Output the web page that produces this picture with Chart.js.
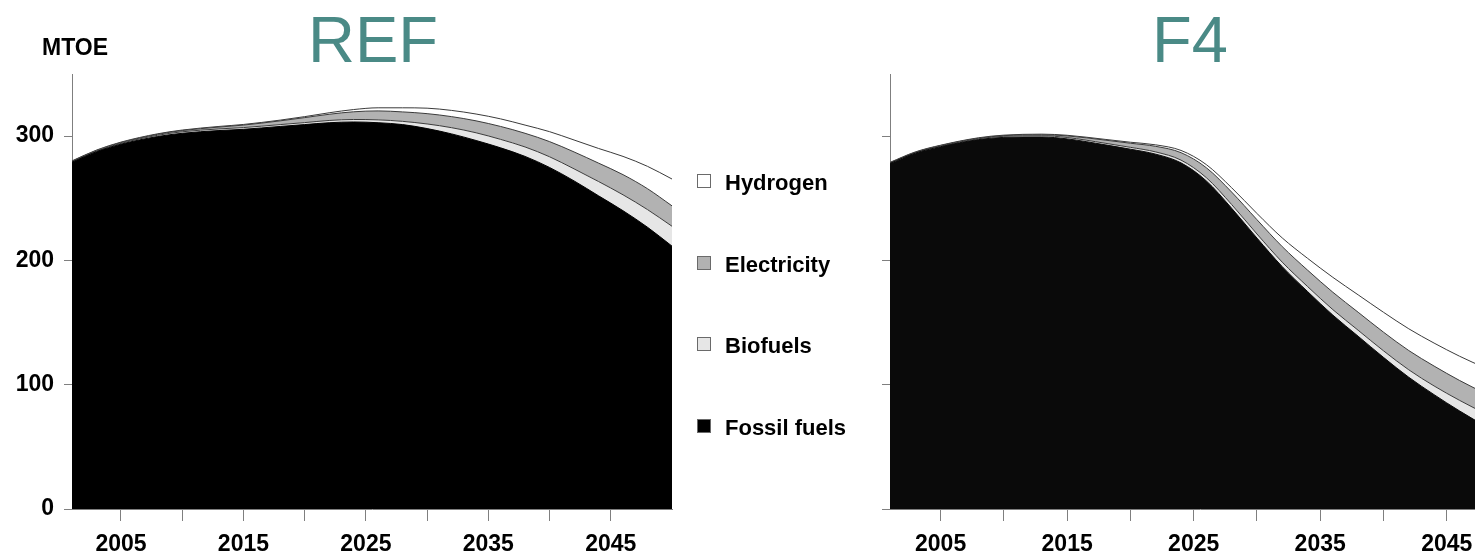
<!DOCTYPE html>
<html><head><meta charset="utf-8">
<script src="https://cdn.jsdelivr.net/npm/chart.js@4/dist/chart.umd.min.js"></script>
<style>
html,body{margin:0;padding:0;width:1475px;height:555px;overflow:hidden;background:#fff;font-family:"Liberation Sans",Arial,sans-serif;}
.box{position:absolute;top:0;height:555px;}
.title{position:absolute;top:7px;font-size:65px;line-height:65px;color:#4a8a86;transform:translateX(-50%);white-space:nowrap;}
#unit{position:absolute;left:42px;top:36px;font-size:23px;line-height:23px;font-weight:bold;color:#000;}
.lg-box{position:absolute;left:697px;width:12px;height:12px;border:1px solid #6a6a6a;}
.lg-txt{position:absolute;left:725px;font-size:22px;line-height:22px;font-weight:bold;color:#000;white-space:nowrap;}
</style></head><body>
<div class="box" style="left:0;width:690px"><canvas id="refChart"></canvas></div>
<div class="box" style="left:800px;width:730px"><canvas id="f4Chart"></canvas></div>
<div class="title" style="left:373px">REF</div>
<div class="title" style="left:1190px">F4</div>
<div id="unit">MTOE</div>
<div id="legend"></div>
<script>
const years = [2001,2003,2005,2008,2010,2013,2015,2018,2020,2022,2024,2026,2028,2030,2032,2034,2036,2038,2040,2042,2044,2046,2048,2050];

const refFossil      = [279,287.5,293.5,299.7,302.3,304.5,305.5,307.8,309.3,310.8,311.4,310.8,309.3,306.1,301.8,296.5,290.6,283.7,274.8,264,252,240,226.7,211.5];
const refBiofuels    = [0.4,0.5,0.7,1.0,1.2,1.3,1.4,1.5,1.6,1.8,2.0,2.3,2.6,3.7,5.0,6.2,6.8,7.6,8.6,9.7,11.5,12.8,14.2,16];
const refElectricity = [0.4,0.5,0.6,0.8,1.0,1.5,2.0,3.0,4.0,5.0,6.2,7.2,7.6,8.3,8.9,9.6,10.4,11.0,12.2,13.6,14.8,16.2,16.8,16.4];
const refHydrogen    = [0.3,0.3,0.4,0.4,0.4,0.5,0.5,0.6,0.8,1.2,1.8,2.5,3.3,4.4,5.0,5.5,6.1,6.6,8.0,9.6,11.8,14.7,18,21.6];

const f4Fossil      = [278,286.3,291.5,297.2,299,299.3,297.8,293,289.5,285.5,278.5,264,242,218,195,175,156,139,122,106,92,79,67,56];
const f4Biofuels    = [0.3,0.4,0.5,0.7,0.9,1.0,1.1,1.3,1.5,1.8,2.2,2.6,3.0,3.3,3.6,4.0,4.4,4.8,5.3,6.0,7.0,8.5,10,11];
const f4Electricity = [0.3,0.3,0.4,0.4,0.5,0.8,1.3,2.5,3.3,4.5,6.0,8.0,10,11.5,12.5,13.2,14,14.5,15,15.5,16,16,16.2,16.4];
const f4Hydrogen    = [0.3,0.3,0.3,0.4,0.4,0.5,0.5,0.6,0.8,1.2,1.8,2.5,3.5,5,7,9.5,12,14,16,17.5,18.5,19.5,20.5,21.5];

const seriesNames = ['Fossil fuels','Biofuels','Electricity','Hydrogen'];
const seriesColors = ['#000000','#e6e6e6','#b2b2b2','#ffffff'];
const xTicks = [2005,2010,2015,2020,2025,2030,2035,2040,2045];
const yTicks = [0,100,200,300];

function pts(arr){ return years.map((y,i)=>({x:y,y:arr[i]})); }

function makeChart(id, series, opt){
  const datasets = series.map((arr,i)=>({
    label: seriesNames[i],
    data: pts(arr),
    backgroundColor: i===0 ? opt.fossilColor : seriesColors[i],
    borderColor: i===0 ? opt.fossilColor : '#3a3a3a',
    borderWidth: 1,
    pointRadius: 0,
    cubicInterpolationMode: 'monotone',
    fill: i===0 ? 'origin' : '-1'
  }));
  return new Chart(document.getElementById(id), {
    type: 'line',
    data: { datasets },
    options: {
      responsive: true, maintainAspectRatio: false, animation: false,
      layout: { padding: { top: 74, right: opt.rightPad, left: 0, bottom: 0 } },
      plugins: { legend: { display: false }, tooltip: { enabled: false } },
      scales: {
        x: {
          type: 'linear', min: 2001, max: 2050,
          afterBuildTicks: ax => { ax.ticks = xTicks.map(v=>({value:v})); },
          afterFit: ax => { ax.height = 46; },
          grid: { drawOnChartArea: false, drawTicks: true, tickLength: 12, color: '#7f7f7f' },
          border: { display: true, color: '#7f7f7f' },
          ticks: { autoSkip: false, maxRotation: 0, padding: 10, color: '#000',
                   font: { family: '"Liberation Sans", Arial', size: 23, weight: 'bold' },
                   callback: v => (v % 10 === 5 ? String(v) : '') }
        },
        y: {
          stacked: true, min: 0, max: 350,
          afterBuildTicks: ax => { ax.ticks = yTicks.map(v=>({value:v})); },
          afterFit: ax => { ax.width = opt.yWidth; },
          grid: { drawOnChartArea: false, drawTicks: true, tickLength: 8, color: '#7f7f7f' },
          border: { display: true, color: '#7f7f7f' },
          ticks: { padding: 10, color: '#000',
                   font: { family: '"Liberation Sans", Arial', size: 23, weight: 'bold' },
                   callback: v => (opt.showY ? String(v) : '') }
        }
      }
    }
  });
}

makeChart('refChart', [refFossil, refBiofuels, refElectricity, refHydrogen],
          { fossilColor: '#000000', rightPad: 18, yWidth: 72, showY: true });
makeChart('f4Chart', [f4Fossil, f4Biofuels, f4Electricity, f4Hydrogen],
          { fossilColor: '#0a0a0a', rightPad: 20, yWidth: 90, showY: false });

// legend (top to bottom: Hydrogen, Electricity, Biofuels, Fossil fuels)
const legendRows = [180.5, 262.5, 344, 425.6];
const lg = document.getElementById('legend');
[3,2,1,0].forEach((si, r) => {
  const c = legendRows[r];
  const b = document.createElement('div');
  b.className = 'lg-box';
  b.style.top = (c - 7) + 'px';
  b.style.background = seriesColors[si];
  lg.appendChild(b);
  const t = document.createElement('div');
  t.className = 'lg-txt';
  t.style.top = (c + 2 - 10.7) + 'px';
  t.textContent = seriesNames[si];
  lg.appendChild(t);
});
</script>
</body></html>
